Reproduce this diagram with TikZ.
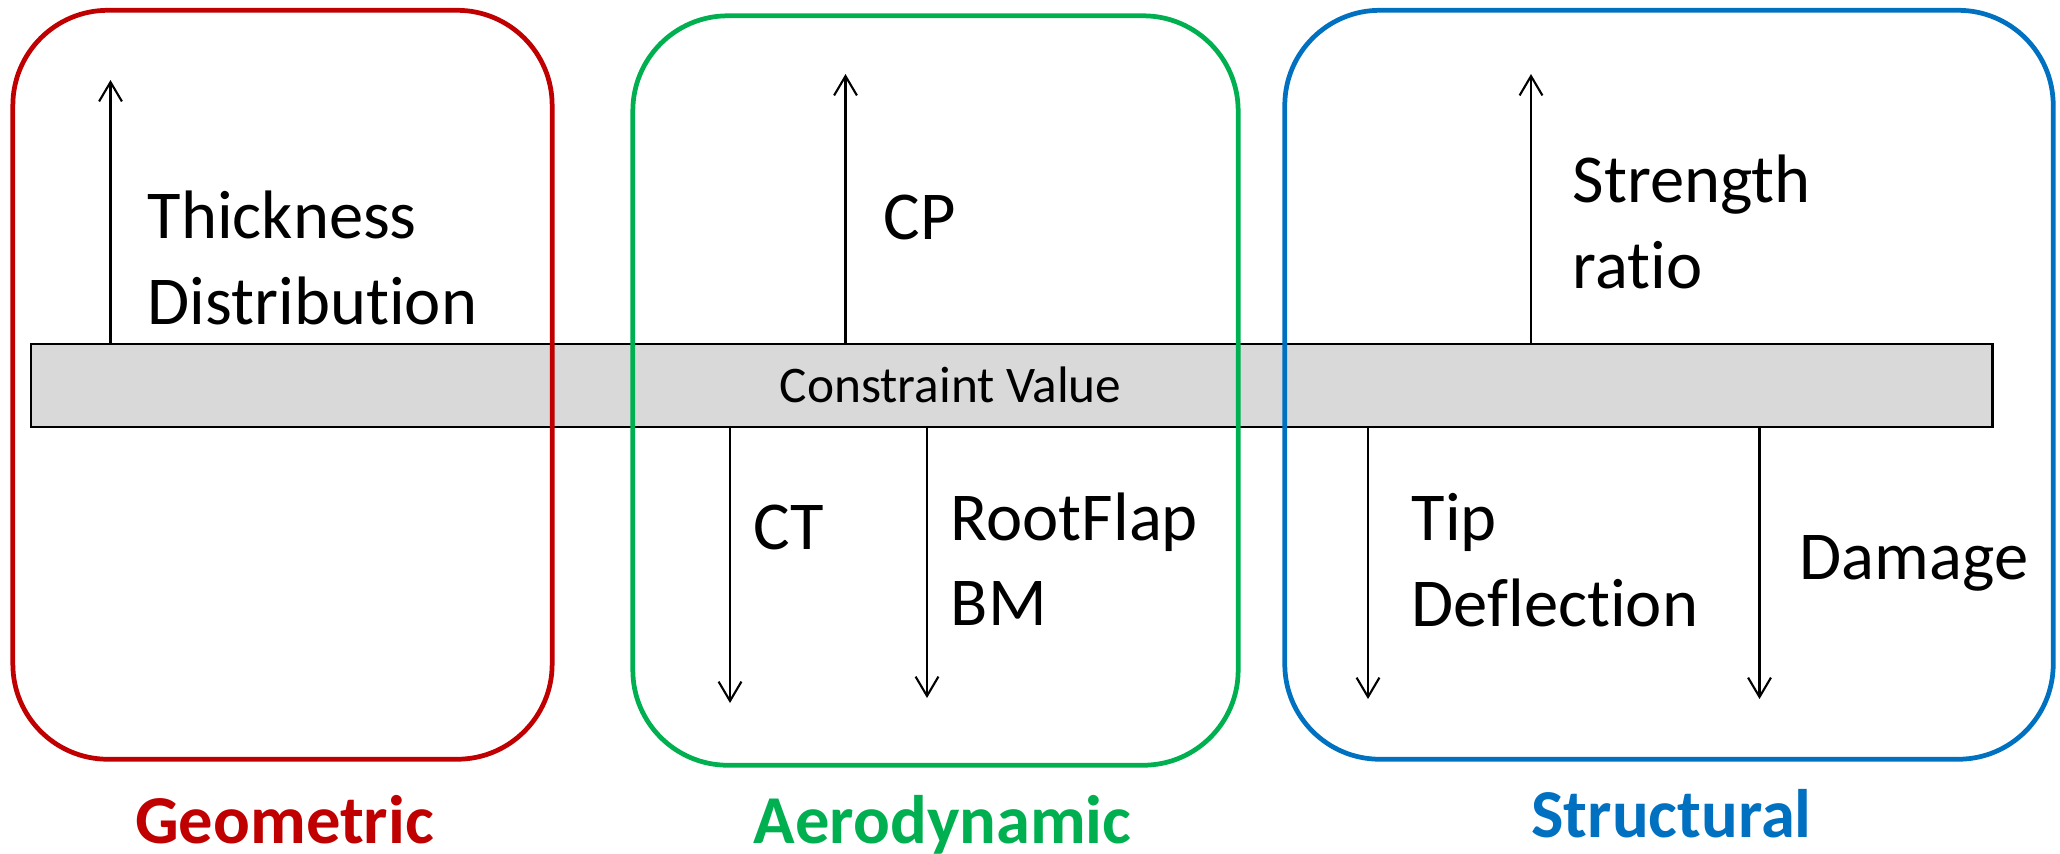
\documentclass[tikz,border=0pt]{standalone}
\usepackage{fontspec}
\setmainfont{Carlito}[Ligatures=NoCommon]
\usetikzlibrary{arrows.meta}
\definecolor{geored}{HTML}{C00000}
\definecolor{aerogreen}{HTML}{00B050}
\definecolor{strucblue}{HTML}{0070C0}
\definecolor{bargrey}{HTML}{D9D9D9}
\begin{document}
\begin{tikzpicture}[x=0.01cm,y=-0.01cm,
  groupbox/.style={draw=#1, line width=1.35pt, rounded corners=0.95cm, inner sep=0pt, outer sep=0pt},
  grouplabel/.style={text=#1, font=\fontsize{19.5}{23}\selectfont\bfseries, inner sep=0pt, anchor=base},
  bigtext/.style={font=\fontsize{19.5}{24.2}\selectfont, align=left, inner sep=0pt, anchor=base west},
  arr/.style={-{Straight Barb[length=5.5pt,width=6.5pt]}, line width=0.6pt},
]
\useasboundingbox (0,0) rectangle (2060,853);
% constraint bar
\node[draw, line width=0.7pt, fill=bargrey, inner sep=0pt, outer sep=0pt,
      minimum width=19.605cm, minimum height=0.83cm] (bar) at (1011.75,385.5) {};
\node[font=\fontsize{14.6}{17}\selectfont, inner sep=0pt, anchor=base west] (cv) at (779,402.6) {Constraint Value};
% group boxes
\node[groupbox=geored, minimum width=5.39cm, minimum height=7.485cm] (geo) at (282.5,384.75) {};
\node[groupbox=aerogreen, minimum width=6.05cm, minimum height=7.49cm] (aero) at (935.5,390.5) {};
\node[groupbox=strucblue, minimum width=7.68cm, minimum height=7.485cm] (struc) at (1669,384.75) {};
% group labels
\node[grouplabel=geored] (geol) at (284.5,843) {Geometric};
\node[grouplabel=aerogreen] (aerol) at (942.6,843) {Aerodynamic};
\node[grouplabel=strucblue] (strucl) at (1671.6,837) {Structural};
% arrow tips
\coordinate (tThick) at (110.5,80);
\coordinate (tCP) at (845.5,74);
\coordinate (tSR) at (1531,74);
\coordinate (tCT) at (730,703);
\coordinate (tRF) at (927,698);
\coordinate (tTip) at (1368,699);
\coordinate (tDmg) at (1759.5,699);
\draw[arr] (tThick |- bar.north) -- (tThick);
\draw[arr] (tCP |- bar.north) -- (tCP);
\draw[arr] (tSR |- bar.north) -- (tSR);
\draw[arr] (tCT |- bar.south) -- (tCT);
\draw[arr] (tRF |- bar.south) -- (tRF);
\draw[arr] (tTip |- bar.south) -- (tTip);
\draw[arr] (tDmg |- bar.south) -- (tDmg);
% texts (anchor = baseline of last line)
\node[bigtext] (thick) at (147,324) {Thickness\\Distribution};
\node[bigtext] (cp) at (883,239) {CP};
\node[bigtext] (ct) at (753,549.5) {CT};
\node[bigtext] (rf) at (950,625.7) {RootFlap\\BM};
\node[bigtext] (sr) at (1572,288) {Strength\\ratio};
\node[bigtext] (tip) at (1411,626) {Tip\\Deflection};
\node[bigtext] (dmg) at (1799,579.5) {Damage};
\end{tikzpicture}
\end{document}
